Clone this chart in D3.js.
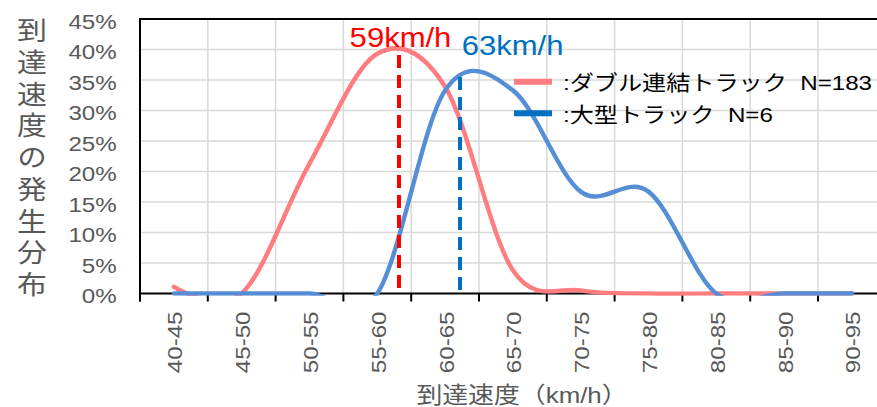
<!DOCTYPE html>
<html><head><meta charset="utf-8">
<script src="https://cdn.jsdelivr.net/npm/d3@7"></script>
<style>
html,body{margin:0;padding:0;background:#fff;}
svg{display:block;}
text{font-family:"Liberation Sans",Arial,"Noto Sans CJK JP",sans-serif;}
</style>
</head><body>
<div id="chart"></div>
<script>
// ---- data ----
const categories = ["40-45","45-50","50-55","55-60","60-65","65-70","70-75","75-80","80-85","85-90","90-95"];
const doubleTruck = [1.1, 0, 21.3, 39.3, 33.9, 3.8, 0.5, 0, 0, 0, 0];   // % (N=183)
const largeTruck  = [0, 0, 0, 0, 33.3, 33.3, 16.7, 16.7, 0, 0, 0];      // % (N=6)
const yTicks = [0, 5, 10, 15, 20, 25, 30, 35, 40, 45];
const seriesNames = [":ダブル連結トラック\u00a0\u00a0N=183", ":大型トラック\u00a0\u00a0N=6"];
const markerSpeeds = [59.1, 63.6];      // km/h position of dashed lines
const markerTops = [39.1, 35.5];        // % where dashed lines start
const markerLabels = ["59km/h", "63km/h"];
const yTitle = "到達速度の発生分布";
const xTitle = "到達速度（km/h）";

// ---- layout ----
const W = 877, H = 407;
const pL = 140, pT = 19, pB = 293.5, pR = 885.8;
const SX = 1.15;
const colors = ["#ff7c80", "#558ed5"];
const legendColors = ["#ff7c80", "#0070c0"];
const markerColors = ["#ff0000", "#0070c0"];
const grey = "#595959";

const svg = d3.select("#chart").append("svg").attr("width", W).attr("height", H);
svg.append("rect").attr("width", W).attr("height", H).attr("fill", "#fff");

const x = d3.scaleBand().domain(categories).range([pL, pR]).padding(0);
const bw = x.bandwidth();
const xs = d3.scaleLinear().domain([40, 95]).range([pL, pR]);
const y = d3.scaleLinear().domain([0, 45]).range([pB, pT]);

// gridlines
const grid = svg.append("g");
grid.selectAll("line.h").data(yTicks.filter(t => t > 0)).join("line")
  .attr("x1", pL).attr("x2", pR).attr("y1", d => y(d)).attr("y2", d => y(d))
  .attr("stroke", "#d9d9d9").attr("stroke-width", 1.5);
const bounds = categories.map(c => x(c)).concat([pR]);
grid.selectAll("line.v").data(bounds.slice(1)).join("line")
  .attr("x1", d => d).attr("x2", d => d).attr("y1", pT).attr("y2", pB)
  .attr("stroke", "#d9d9d9").attr("stroke-width", 1.5);

// y axis labels
const yAxis = svg.append("g").attr("transform", `translate(${pL},0)`)
  .call(d3.axisLeft(y).tickValues(yTicks).tickSize(0).tickPadding(0).tickFormat(d => d + "%"));
yAxis.select(".domain").remove();
yAxis.selectAll("text").attr("x", null).attr("dy", null)
  .attr("transform", `translate(-23.3,9.3) scale(${SX},1)`)
  .attr("font-size", 21).attr("fill", grey)
  .style("font-family", '"Liberation Sans",Arial,sans-serif');

// x axis labels
const xAxis = svg.append("g").attr("transform", `translate(0,${pB})`)
  .call(d3.axisBottom(x).tickSize(0).tickPadding(0));
xAxis.select(".domain").remove();
xAxis.selectAll("text").attr("y", null).attr("dy", null)
  .attr("text-anchor", "end")
  .attr("transform", `translate(8.5,18) rotate(-90) scale(${SX},1)`)
  .attr("font-size", 21).attr("fill", grey)
  .style("font-family", '"Liberation Sans",Arial,sans-serif');

// plot frame
svg.append("line").attr("x1", pL).attr("x2", pR + 5).attr("y1", pT).attr("y2", pT)
  .attr("stroke", "#000").attr("stroke-width", 2);
svg.append("line").attr("x1", pL).attr("x2", pL).attr("y1", pT - 1).attr("y2", pB + 8)
  .attr("stroke", "#000").attr("stroke-width", 2);
svg.append("line").attr("x1", pL).attr("x2", pR + 5).attr("y1", pB).attr("y2", pB)
  .attr("stroke", "#000").attr("stroke-width", 2);
svg.append("g").selectAll("line").data(bounds).join("line")
  .attr("x1", d => d).attr("x2", d => d).attr("y1", pB).attr("y2", pB + 8)
  .attr("stroke", "#000").attr("stroke-width", 2);

// clip
svg.append("defs").append("clipPath").attr("id", "plotclip")
  .append("rect").attr("x", pL).attr("y", pT - 5).attr("width", pR - pL)
  .attr("height", pB + 2.2 - (pT - 5));

const line = d3.line()
  .x((d, i) => x(categories[i]) + bw / 2)
  .y(d => y(d))
  .curve(d3.curveCardinal.tension(0));

const plot = svg.append("g").attr("clip-path", "url(#plotclip)");
[doubleTruck, largeTruck].forEach((s, k) => {
  plot.append("path").datum(s).attr("d", line)
    .attr("fill", "none").attr("stroke", colors[k]).attr("stroke-width", 4.4)
    .attr("stroke-linejoin", "round").attr("stroke-linecap", "round");
});

// dashed markers
markerSpeeds.forEach((v, k) => {
  svg.append("line")
    .attr("x1", xs(v)).attr("x2", xs(v))
    .attr("y1", y(markerTops[k])).attr("y2", pB)
    .attr("stroke", markerColors[k]).attr("stroke-width", 4)
    .attr("stroke-dasharray", "13,7");
});
// marker labels
[[markerLabels[0], xs(markerSpeeds[0]) + 1.5, 47, "middle"],
 [markerLabels[1], xs(markerSpeeds[1]) + 1.7, 55, "start"]].forEach((m, k) => {
  svg.append("text").text(m[0])
    .attr("transform", `translate(${m[1]},${m[2]}) scale(${SX},1)`)
    .attr("text-anchor", m[3]).attr("font-size", 27).attr("fill", markerColors[k]);
});

// legend
const legY = [81.7, 113.3];
seriesNames.forEach((n, k) => {
  svg.append("line").attr("x1", 514).attr("x2", 552).attr("y1", legY[k]).attr("y2", legY[k])
    .attr("stroke", legendColors[k]).attr("stroke-width", 6);
  svg.append("text").text(n)
    .attr("transform", `translate(563,${legY[k] + 8.3}) scale(${SX},1)`)
    .attr("font-size", 21).attr("fill", "#000");
});

// y title (vertical, one text element)
svg.append("text").text(yTitle)
  .attr("transform", `translate(32,17.5) scale(${SX},1)`)
  .style("writing-mode", "vertical-rl")
  .style("letter-spacing", "5.7px")
  .attr("text-anchor", "start")
  .attr("font-size", 26).attr("fill", grey)
  .style("font-family", '"Noto Sans CJK JP",sans-serif');

// x title
svg.append("text").text(xTitle)
  .attr("transform", `translate(522,395) scale(${SX},1)`)
  .attr("text-anchor", "middle").attr("dominant-baseline", "central")
  .attr("font-size", 22.5).attr("fill", grey);
</script>
</body></html>
